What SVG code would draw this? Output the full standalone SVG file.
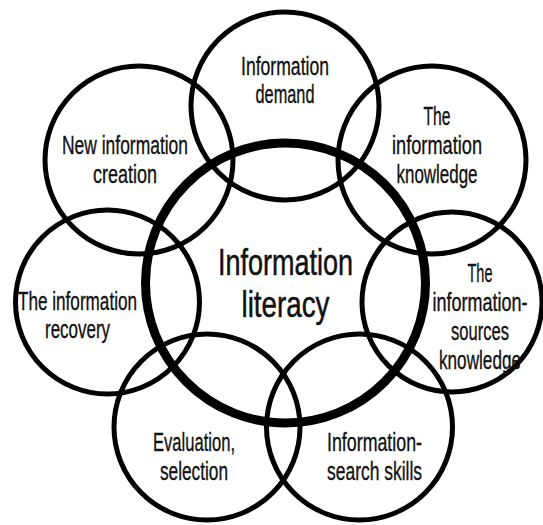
<svg xmlns="http://www.w3.org/2000/svg" width="543" height="525" viewBox="0 0 543 525">
  <style>
    .ring { fill: none; stroke: #000; stroke-width: 5; }
    .core { fill: none; stroke: #000; stroke-width: 9; }
    text { font-family: "Liberation Sans", Arial, sans-serif; fill: #111; stroke: #111; stroke-width: 0.35; text-anchor: middle; }
    .lbl { font-size: 26px; }
    .big { font-size: 36px; stroke-width: 0.5; }
  </style>
  <rect width="543" height="525" fill="#fff"/>

  <!-- outer rings -->
  <g id="demand">
    <circle class="ring" cx="285" cy="106" r="94"/>
    <text class="lbl" x="285" y="75" textLength="88" lengthAdjust="spacingAndGlyphs">Information</text>
    <text class="lbl" x="285" y="103" textLength="59" lengthAdjust="spacingAndGlyphs">demand</text>
  </g>
  <g id="creation">
    <circle class="ring" cx="139" cy="160" r="94"/>
    <text class="lbl" x="125" y="154" textLength="126" lengthAdjust="spacingAndGlyphs">New information</text>
    <text class="lbl" x="125" y="183" textLength="64" lengthAdjust="spacingAndGlyphs">creation</text>
  </g>
  <g id="knowledge">
    <circle class="ring" cx="432" cy="160" r="94"/>
    <text class="lbl" x="437" y="125" textLength="27" lengthAdjust="spacingAndGlyphs">The</text>
    <text class="lbl" x="437" y="154" textLength="90" lengthAdjust="spacingAndGlyphs">information</text>
    <text class="lbl" x="437" y="183" textLength="81" lengthAdjust="spacingAndGlyphs">knowledge</text>
  </g>
  <g id="recovery">
    <circle class="ring" cx="107.5" cy="302" r="92"/>
    <text class="lbl" x="77.5" y="310" textLength="119" lengthAdjust="spacingAndGlyphs">The information</text>
    <text class="lbl" x="77.5" y="338" textLength="65" lengthAdjust="spacingAndGlyphs">recovery</text>
  </g>
  <g id="sources">
    <circle class="ring" cx="452" cy="302" r="90"/>
    <text class="lbl" x="480" y="282" textLength="25" lengthAdjust="spacingAndGlyphs">The</text>
    <text class="lbl" x="480" y="311" textLength="95" lengthAdjust="spacingAndGlyphs">information-</text>
    <text class="lbl" x="480" y="340" textLength="58" lengthAdjust="spacingAndGlyphs">sources</text>
    <text class="lbl" x="480" y="369" textLength="82" lengthAdjust="spacingAndGlyphs">knowledge</text>
  </g>
  <g id="evaluation">
    <circle class="ring" cx="207" cy="427" r="93"/>
    <text class="lbl" x="194" y="451" textLength="82" lengthAdjust="spacingAndGlyphs">Evaluation,</text>
    <text class="lbl" x="194" y="480" textLength="68" lengthAdjust="spacingAndGlyphs">selection</text>
  </g>
  <g id="search">
    <circle class="ring" cx="359.5" cy="427" r="93"/>
    <text class="lbl" x="374.5" y="451" textLength="95" lengthAdjust="spacingAndGlyphs">Information-</text>
    <text class="lbl" x="374.5" y="480" textLength="95" lengthAdjust="spacingAndGlyphs">search skills</text>
  </g>

  <!-- central ring -->
  <g id="literacy">
    <circle class="core" cx="285.5" cy="283" r="140"/>
    <text class="big" x="285.5" y="275" textLength="135" lengthAdjust="spacingAndGlyphs">Information</text>
    <text class="big" x="285.5" y="317" textLength="88" lengthAdjust="spacingAndGlyphs">literacy</text>
  </g>

  <g id="connectors"/>
</svg>
